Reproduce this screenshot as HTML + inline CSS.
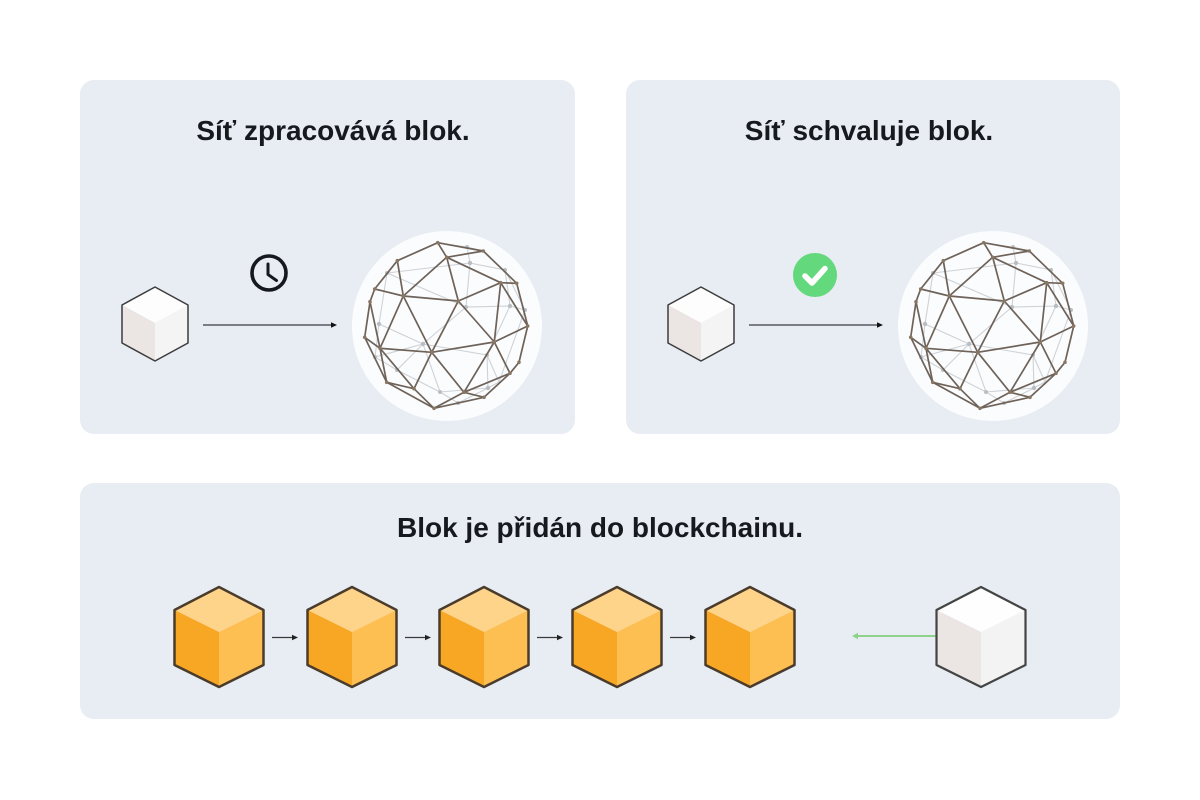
<!DOCTYPE html>
<html><head><meta charset="utf-8"><style>
html,body{margin:0;padding:0;background:#fff;}
svg{display:block;}
text{font-family:"Liberation Sans",sans-serif;font-weight:bold;fill:#16191d;}
</style></head><body>
<svg width="1200" height="800" viewBox="0 0 1200 800" xmlns="http://www.w3.org/2000/svg">
<defs>
<g id="sphere">
<circle cx="447" cy="326" r="95" fill="#fbfcfd"/>
<g stroke="#c9cdd2" stroke-width="1.1" fill="none" opacity="0.9">
<path d="M467,247 L470,263 L505,270 L510,306 L466,307 L470,263 M387,273 L470,263 M387,273 L379,324 L423,344 L466,307 L510,306 L525,310 M423,344 L487,355 L510,306 M379,324 L375,357 L397,370 L423,344 M397,370 L440,392 L423,344 M440,392 L458,403 L488,388 L487,355 L499,382 L488,388 M440,392 L488,388 M505,270 L525,310 L499,382 M387,273 L466,307 M375,357 L423,344 M437,243 L467,247 L483,251"/>
</g>
<g fill="#b9bec4">
<circle cx="467" cy="247" r="2"/><circle cx="470" cy="263" r="2.2"/><circle cx="505" cy="270" r="2"/><circle cx="510" cy="306" r="2.2"/><circle cx="466" cy="307" r="2"/><circle cx="379" cy="324" r="2.2"/><circle cx="423" cy="344" r="2.2"/><circle cx="487" cy="355" r="2"/><circle cx="375" cy="357" r="2"/><circle cx="397" cy="370" r="2"/><circle cx="440" cy="392" r="2"/><circle cx="458" cy="403" r="2"/><circle cx="488" cy="388" r="2.2"/><circle cx="525" cy="310" r="2"/><circle cx="387" cy="273" r="2"/>
</g>
<g stroke="#6e6259" stroke-width="1.7" fill="none" stroke-linejoin="round">
<path d="M437.7,242.7 L483.3,251 L516.7,283.3 L527.7,326 L519,362.3 L510,373.3 L484,397.3 L434,408.3 L386.7,382.3 L364.7,337.3 L370,301.7 L374.7,289 L397.3,260.7 Z"/>
<path d="M437.7,242.7 L446.7,257.3 L483.3,251 M446.7,257.3 L500.7,282.7 L516.7,283.3 M446.7,257.3 L458.3,301 M446.7,257.3 L403.3,296 L397.3,260.7 M374.7,289 L403.3,296 L458.3,301 L500.7,282.7 L527.7,326 M500.7,282.7 L494.3,342 L458.3,301 L431.7,352.3 L403.3,296 L380,348.3 L370,301.7 M364.7,337.3 L380,348.3 L431.7,352.3 L494.3,342 L527.7,326 M494.3,342 L510,373.3 M494.3,342 L464,392.3 L431.7,352.3 L414,388.7 L380,348.3 L386.7,382.3 M386.7,382.3 L414,388.7 L434,408.3 L464,392.3 L484,397.3 M414,388.7 L431.7,352.3 M464,392.3 L510,373.3"/>
</g>
<g fill="#8a7763">
<circle cx="437.7" cy="242.7" r="1.8"/><circle cx="483.3" cy="251" r="1.8"/><circle cx="397.3" cy="260.7" r="1.8"/><circle cx="446.7" cy="257.3" r="1.8"/><circle cx="516.7" cy="283.3" r="1.8"/><circle cx="500.7" cy="282.7" r="1.8"/><circle cx="374.7" cy="289" r="1.8"/><circle cx="403.3" cy="296" r="1.8"/><circle cx="458.3" cy="301" r="1.8"/><circle cx="370" cy="301.7" r="1.8"/><circle cx="527.7" cy="326" r="1.8"/><circle cx="364.7" cy="337.3" r="1.8"/><circle cx="380" cy="348.3" r="1.8"/><circle cx="431.7" cy="352.3" r="1.8"/><circle cx="494.3" cy="342" r="1.8"/><circle cx="519" cy="362.3" r="1.8"/><circle cx="510" cy="373.3" r="1.8"/><circle cx="386.7" cy="382.3" r="1.8"/><circle cx="414" cy="388.7" r="1.8"/><circle cx="464" cy="392.3" r="1.8"/><circle cx="484" cy="397.3" r="1.8"/><circle cx="434" cy="408.3" r="1.8"/>
</g>
</g>
<g id="smallcube">
<polygon points="155,287 188,305 155,323 122,305" fill="#fdfdfd"/>
<polygon points="122,305 155,323 155,361 122,343" fill="#ebe5e3"/>
<polygon points="155,323 188,305 188,343 155,361" fill="#f4f4f4"/>
<polygon points="155,287 188,305 188,343 155,361 122,343 122,305" fill="none" stroke="#3c3c3c" stroke-width="1.5" stroke-linejoin="round"/>
</g>
<g id="ocube">
<polygon points="0,587 44.5,610 0,632 -44.5,610" fill="#fed48b"/>
<polygon points="-44.5,610 0,632 0,687 -44.5,665" fill="#f8a724"/>
<polygon points="0,632 44.5,610 44.5,665 0,687" fill="#fdbe52"/>
<polygon points="0,587 44.5,610 44.5,665 0,687 -44.5,665 -44.5,610" fill="none" stroke="#4a3b2b" stroke-width="2.5" stroke-linejoin="round"/>
</g>
<g id="sarrow">
<line x1="0" y1="0" x2="22" y2="0" stroke="#3a3a3a" stroke-width="1.3"/>
<polygon points="26,0 20,-2.7 20,2.7" fill="#222"/>
</g>
</defs>
<rect x="0" y="0" width="1200" height="800" fill="#ffffff"/>
<rect x="80" y="80" width="495" height="354" rx="14" fill="#e7edf3"/>
<rect x="626" y="80" width="494" height="354" rx="14" fill="#e7edf3"/>
<rect x="80" y="483" width="1040" height="236" rx="14" fill="#e7edf3"/>

<text x="333" y="140" font-size="28" text-anchor="middle">Síť zpracovává blok.</text>
<text x="869" y="140" font-size="28" text-anchor="middle">Síť schvaluje blok.</text>
<text x="600" y="537" font-size="28" text-anchor="middle">Blok je přidán do blockchainu.</text>

<!-- panel 1 -->
<use href="#smallcube"/>
<line x1="203" y1="325" x2="332" y2="325" stroke="#3a3d42" stroke-width="1.3"/>
<polygon points="337,325 331,322.3 331,327.7" fill="#111"/>
<circle cx="269" cy="273" r="17" fill="none" stroke="#15181c" stroke-width="3.6"/>
<polyline points="268,264 268,274.5 276.5,280.5" fill="none" stroke="#15181c" stroke-width="3" stroke-linecap="round" stroke-linejoin="round"/>
<use href="#sphere"/>

<!-- panel 2 -->
<use href="#smallcube" transform="translate(546,0)"/>
<line x1="749" y1="325" x2="878" y2="325" stroke="#3a3d42" stroke-width="1.3"/>
<polygon points="883,325 877,322.3 877,327.7" fill="#111"/>
<circle cx="815" cy="275" r="22" fill="#63d87c"/>
<polyline points="805,276 812,283 825,268.5" fill="none" stroke="#ffffff" stroke-width="5.5" stroke-linecap="round" stroke-linejoin="round"/>
<use href="#sphere" transform="translate(546,0)"/>

<!-- panel 3 -->
<use href="#ocube" transform="translate(219,0)"/>
<use href="#ocube" transform="translate(352,0)"/>
<use href="#ocube" transform="translate(484,0)"/>
<use href="#ocube" transform="translate(617,0)"/>
<use href="#ocube" transform="translate(750,0)"/>
<use href="#sarrow" transform="translate(272,637.5)"/>
<use href="#sarrow" transform="translate(405,637.5)"/>
<use href="#sarrow" transform="translate(537,637.5)"/>
<use href="#sarrow" transform="translate(670,637.5)"/>

<line x1="937" y1="636" x2="857" y2="636" stroke="#8fd28b" stroke-width="2"/>
<polygon points="852,636 858,632.8 858,639.2" fill="#8fd28b"/>

<polygon points="981,587 1025.5,610 981,632 936.5,610" fill="#fefefe"/>
<polygon points="936.5,610 981,632 981,687 936.5,665" fill="#ebe5e3"/>
<polygon points="981,632 1025.5,610 1025.5,665 981,687" fill="#f3f3f3"/>
<polygon points="981,587 1025.5,610 1025.5,665 981,687 936.5,665 936.5,610" fill="none" stroke="#444" stroke-width="2.2" stroke-linejoin="round"/>
</svg>
</body></html>
